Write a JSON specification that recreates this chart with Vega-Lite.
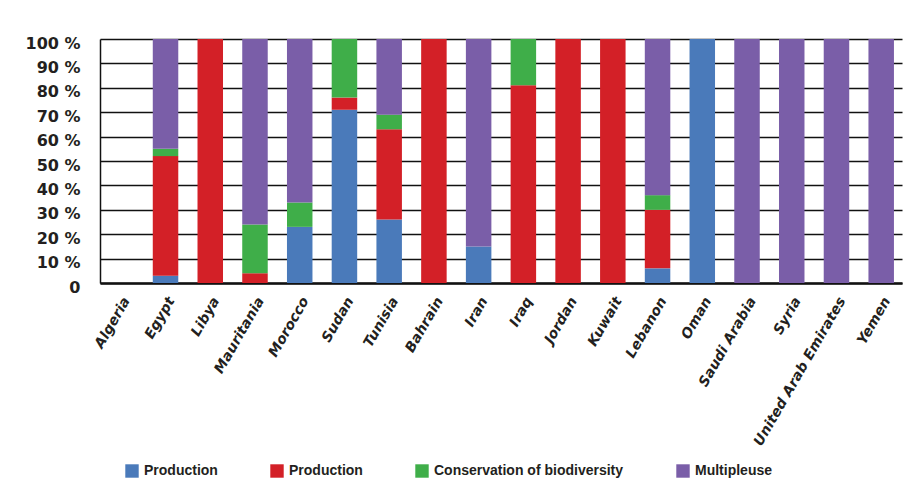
{
  "$schema": "https://vega.github.io/schema/vega-lite/v6.json",
  "width": 802,
  "height": 244,
  "autosize": {"type": "none"},
  "padding": {"left": 100, "top": 39, "right": 16, "bottom": 212},
  "background": "white",
  "config": {
    "view": {"stroke": null},
    "font": "DejaVu Sans"
  },
  "data": {
    "values": [
      {"country": "Algeria", "use": "Production 1", "pct": 0},
      {"country": "Egypt", "use": "Production 1", "pct": 3},
      {"country": "Egypt", "use": "Production 2", "pct": 49},
      {"country": "Egypt", "use": "Conservation of biodiversity", "pct": 3},
      {"country": "Egypt", "use": "Multipleuse", "pct": 45},
      {"country": "Libya", "use": "Production 2", "pct": 100},
      {"country": "Mauritania", "use": "Production 2", "pct": 4},
      {"country": "Mauritania", "use": "Conservation of biodiversity", "pct": 20},
      {"country": "Mauritania", "use": "Multipleuse", "pct": 76},
      {"country": "Morocco", "use": "Production 1", "pct": 23},
      {"country": "Morocco", "use": "Conservation of biodiversity", "pct": 10},
      {"country": "Morocco", "use": "Multipleuse", "pct": 67},
      {"country": "Sudan", "use": "Production 1", "pct": 71},
      {"country": "Sudan", "use": "Production 2", "pct": 5},
      {"country": "Sudan", "use": "Conservation of biodiversity", "pct": 24},
      {"country": "Tunisia", "use": "Production 1", "pct": 26},
      {"country": "Tunisia", "use": "Production 2", "pct": 37},
      {"country": "Tunisia", "use": "Conservation of biodiversity", "pct": 6},
      {"country": "Tunisia", "use": "Multipleuse", "pct": 31},
      {"country": "Bahrain", "use": "Production 2", "pct": 100},
      {"country": "Iran", "use": "Production 1", "pct": 15},
      {"country": "Iran", "use": "Multipleuse", "pct": 85},
      {"country": "Iraq", "use": "Production 2", "pct": 81},
      {"country": "Iraq", "use": "Conservation of biodiversity", "pct": 19},
      {"country": "Jordan", "use": "Production 2", "pct": 100},
      {"country": "Kuwait", "use": "Production 2", "pct": 100},
      {"country": "Lebanon", "use": "Production 1", "pct": 6},
      {"country": "Lebanon", "use": "Production 2", "pct": 24},
      {"country": "Lebanon", "use": "Conservation of biodiversity", "pct": 6},
      {"country": "Lebanon", "use": "Multipleuse", "pct": 64},
      {"country": "Oman", "use": "Production 1", "pct": 100},
      {"country": "Saudi Arabia", "use": "Multipleuse", "pct": 100},
      {"country": "Syria", "use": "Multipleuse", "pct": 100},
      {"country": "United Arab Emirates", "use": "Multipleuse", "pct": 100},
      {"country": "Yemen", "use": "Multipleuse", "pct": 100}
    ]
  },
  "transform": [
    {"calculate": "indexof(['Production 1','Production 2','Conservation of biodiversity','Multipleuse'], datum.use)", "as": "stackOrder"}
  ],
  "mark": {"type": "bar"},
  "encoding": {
    "x": {
      "field": "country",
      "type": "nominal",
      "scale": {
        "domain": ["Algeria", "Egypt", "Libya", "Mauritania", "Morocco", "Sudan", "Tunisia", "Bahrain", "Iran", "Iraq", "Jordan", "Kuwait", "Lebanon", "Oman", "Saudi Arabia", "Syria", "United Arab Emirates", "Yemen"],
        "paddingInner": 0.43,
        "paddingOuter": 0.18
      },
      "axis": {
        "title": null,
        "labelAngle": -60,
        "labelFont": "DejaVu Sans",
        "labelFontSize": 14,
        "labelFontWeight": "bold",
        "labelFontStyle": "italic",
        "labelColor": "#231f20",
        "labelPadding": 15,
        "labelOffset": 6,
        "ticks": false,
        "domainColor": "#111111",
        "domainWidth": 2.5,
        "labelLimit": 300
      }
    },
    "y": {
      "field": "pct",
      "type": "quantitative",
      "aggregate": "sum",
      "stack": "zero",
      "scale": {"domain": [0, 100], "nice": false},
      "axis": {
        "title": null,
        "values": [0, 10, 20, 30, 40, 50, 60, 70, 80, 90, 100],
        "labelExpr": "datum.value == 0 ? '0' : datum.value + ' %'",
        "labelFont": "DejaVu Sans",
        "labelFontSize": 16,
        "labelFontWeight": "bold",
        "labelColor": "#231f20",
        "labelPadding": 20,
        "labelOffset": 4,
        "ticks": false,
        "grid": true,
        "gridColor": "#111111",
        "gridWidth": 1.5,
        "domainColor": "#111111",
        "domainWidth": 1.5
      }
    },
    "color": {
      "field": "use",
      "type": "nominal",
      "scale": {
        "domain": ["Production 1", "Production 2", "Conservation of biodiversity", "Multipleuse"],
        "range": ["#4a7aba", "#d32027", "#3fae49", "#7a5ea8"]
      },
      "legend": {
        "title": null,
        "orient": "none",
        "legendX": 25,
        "legendY": 425,
        "direction": "horizontal",
        "columnPadding": 52,
        "symbolType": "square",
        "symbolSize": 180,
        "symbolStrokeWidth": 0,
        "symbolOffset": 0,
        "labelFont": "Liberation Sans",
        "labelFontSize": 14,
        "labelFontWeight": "bold",
        "labelColor": "#231f20",
        "labelOffset": 5,
        "labelLimit": 400,
        "labelExpr": "indexof(datum.label, 'Production') == 0 ? 'Production' : datum.label"
      }
    },
    "order": {"field": "stackOrder", "type": "quantitative", "sort": "ascending"}
  }
}
